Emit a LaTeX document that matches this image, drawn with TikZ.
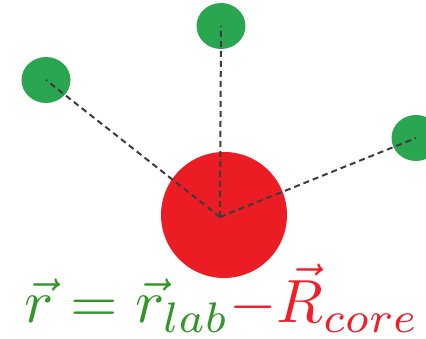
\documentclass[tikz,border=0pt]{standalone}
\usetikzlibrary{shapes.geometric}
\definecolor{corered}{RGB}{236,28,36}
\definecolor{partgreen}{RGB}{42,166,80}
\definecolor{textgreen}{RGB}{52,150,40}
\definecolor{textred}{RGB}{240,30,40}
\definecolor{dashgray}{RGB}{60,60,60}
\tikzset{
  particle/.style={ellipse, fill=partgreen, draw=none, minimum width=49pt, minimum height=46pt, inner sep=0pt},
  link/.style={draw=dashgray, line width=2pt, dash pattern=on 6pt off 4pt}
}
\begin{document}
\begin{tikzpicture}[x=1pt,y=1pt]
\useasboundingbox (0,0) rectangle (426,339);
\node[circle, fill=corered, minimum size=126pt, inner sep=0pt] (core) at (224,124) {};
\coordinate (hub) at (220,122);
\node[particle] (top) at (221,313) {};
\node[particle] (left) at (46,259) {};
\node[particle] (right) at (416,201) {};
\draw[link] (hub) -- (top.center);
\draw[link] (hub) -- (left.center);
\draw[link] (hub) -- (right.center);
\node[anchor=base, scale=6.1, inner sep=0pt] (eq) at (222,16) {{\color{textgreen}$\vec r = \vec r_{lab}$}{\color{textred}$-\vec R_{core}$}};
\end{tikzpicture}
\end{document}
